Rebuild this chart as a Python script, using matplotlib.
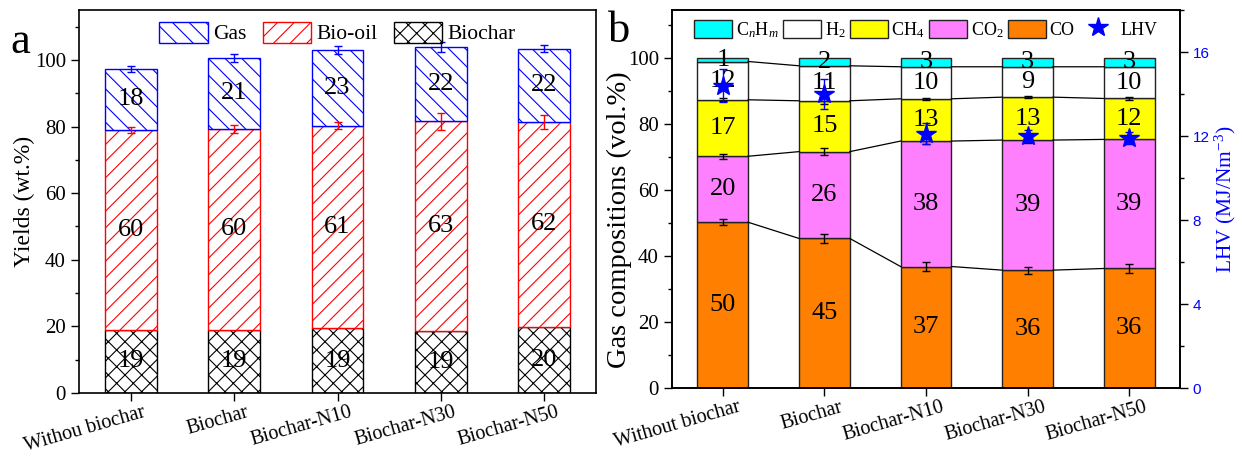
import numpy as np
import matplotlib
matplotlib.use('Agg')
import matplotlib.pyplot as plt
from matplotlib.patches import Patch
from matplotlib.lines import Line2D
from matplotlib.ticker import MultipleLocator
from matplotlib.transforms import ScaledTranslation

plt.rcParams['font.family'] = ['Liberation Serif', 'DejaVu Serif']
plt.rcParams['mathtext.fontset'] = 'custom'
plt.rcParams['mathtext.rm'] = 'Liberation Serif'
plt.rcParams['mathtext.it'] = 'Liberation Serif:italic'
plt.rcParams['hatch.linewidth'] = 0.8

# ---------------- data: panel a ----------------
cats_a = ['Withou biochar', 'Biochar', 'Biochar-N10', 'Biochar-N30', 'Biochar-N50']
biochar = [19.0, 19.0, 19.4, 18.7, 19.8]
biooil = [60.0, 60.3, 60.9, 62.9, 61.6]
gas = [18.4, 21.3, 22.6, 22.4, 22.0]
biooil_err = [1.0, 1.2, 1.1, 2.5, 2.0]
gas_err = [0.9, 1.2, 1.2, 1.5, 1.1]

# ---------------- data: panel b ----------------
cats_b = ['Without biochar', 'Biochar', 'Biochar-N10', 'Biochar-N30', 'Biochar-N50']
co = [50.2, 45.3, 36.8, 35.7, 36.2]
co2 = [20.0, 26.3, 38.0, 39.4, 39.1]
ch4 = [17.1, 15.4, 12.8, 13.0, 12.4]
h2 = [11.6, 10.6, 9.7, 9.2, 9.6]
cnhm = [1.1, 2.3, 2.7, 2.7, 2.7]
co_err = [0.9, 1.4, 1.3, 1.1, 1.4]
co2_err = [0.8, 1.0, 1.0, 1.0, 0.8]
ch4_err = [0.4, 1.0, 0.3, 0.4, 0.4]
lhv = [14.4, 14.0, 12.1, 12.0, 11.9]
lhv_err = [0.8, 0.7, 0.5, 0.3, 0.3]

W = 0.5
VAL_FS = 19
TICK_FS = 15
XT_FS = 14.5
XT_ROT = 16

fig = plt.figure(figsize=(12.42, 4.58), dpi=100)
axa = fig.add_axes([79/1242, 65/458, 517/1242, 383/458])
axb = fig.add_axes([672/1242, 70/458, 508/1242, 378/458])


def shift_xlabels(ax, dx_px):
    off = ScaledTranslation(dx_px / 100.0, 0, fig.dpi_scale_trans)
    for lab in ax.get_xticklabels():
        lab.set_transform(lab.get_transform() + off)


# ---------------- panel a ----------------
x = np.arange(len(cats_a))
b1 = np.array(biochar)
b2 = b1 + np.array(biooil)
b3 = b2 + np.array(gas)
axa.bar(x, biochar, W, color='white', edgecolor='black', hatch='xx', linewidth=1.0)
axa.bar(x, biooil, W, bottom=b1, color='white', edgecolor='red', hatch='//', linewidth=1.0)
axa.bar(x, gas, W, bottom=b2, color='white', edgecolor='blue', hatch='\\\\', linewidth=1.0)
axa.errorbar(x, b2, yerr=biooil_err, fmt='none', ecolor='red', elinewidth=1, capsize=3)
axa.errorbar(x, b3, yerr=gas_err, fmt='none', ecolor='blue', elinewidth=1, capsize=3)
for i in range(len(x)):
    axa.text(x[i], b1[i]/2, f'{round(biochar[i])}', ha='center', va='center', fontsize=VAL_FS)
    axa.text(x[i], (b1[i]+b2[i])/2, f'{round(biooil[i])}', ha='center', va='center', fontsize=VAL_FS)
    axa.text(x[i], (b2[i]+b3[i])/2, f'{round(gas[i])}', ha='center', va='center', fontsize=VAL_FS)

axa.set_xlim(-0.5, 4.5)
axa.set_ylim(0, 115)
axa.yaxis.set_major_locator(MultipleLocator(20))
axa.yaxis.set_minor_locator(MultipleLocator(10))
axa.tick_params(axis='y', labelsize=TICK_FS, direction='out', length=6, width=1)
axa.tick_params(axis='y', which='minor', direction='out', length=3, width=1)
axa.tick_params(axis='x', direction='out', length=6, width=1, pad=1)
axa.set_xticks(x)
axa.set_xticklabels(cats_a, rotation=XT_ROT, ha='right', va='top', rotation_mode='anchor',
                    fontsize=XT_FS)
shift_xlabels(axa, 12)
axa.set_ylabel('Yields (wt.%)', fontsize=17)
axa.yaxis.set_label_coords(-0.085, 0.5)
for s in axa.spines.values():
    s.set_linewidth(1.2)

hand_a = [Patch(facecolor='white', edgecolor='blue', hatch='\\\\', label='Gas'),
          Patch(facecolor='white', edgecolor='red', hatch='//', label='Bio-oil'),
          Patch(facecolor='white', edgecolor='black', hatch='xx', label='Biochar')]
axa.legend(handles=hand_a, loc='upper center', ncol=3, frameon=False, fontsize=15.5,
           handlelength=2.25, handleheight=1.1, handletextpad=0.25, columnspacing=0.75,
           borderaxespad=0.15, bbox_to_anchor=(0.5, 1.0))

# ---------------- panel b ----------------
xb = np.arange(len(cats_b))
c1 = np.array(co)
c2 = c1 + np.array(co2)
c3 = c2 + np.array(ch4)
c4 = c3 + np.array(h2)
c5 = c4 + np.array(cnhm)
colors = {'co': '#FF8000', 'co2': '#FF80FF', 'ch4': '#FFFF00', 'h2': 'white', 'cnhm': '#00FFFF'}
ec = '#222222'
axb.bar(xb, co, W, color=colors['co'], edgecolor=ec, linewidth=1.0)
axb.bar(xb, co2, W, bottom=c1, color=colors['co2'], edgecolor=ec, linewidth=1.0)
axb.bar(xb, ch4, W, bottom=c2, color=colors['ch4'], edgecolor=ec, linewidth=1.0)
axb.bar(xb, h2, W, bottom=c3, color=colors['h2'], edgecolor=ec, linewidth=1.0)
axb.bar(xb, cnhm, W, bottom=c4, color=colors['cnhm'], edgecolor=ec, linewidth=1.0)

# connecting lines between bars
for tops in (c1, c2, c3, c4):
    lx, ly = [], []
    for i in range(len(xb) - 1):
        lx += [xb[i] + W/2, xb[i+1] - W/2, np.nan]
        ly += [tops[i], tops[i+1], np.nan]
    axb.plot(lx, ly, color='black', linewidth=0.9)

axb.errorbar(xb, c1, yerr=co_err, fmt='none', ecolor='black', elinewidth=1, capsize=3)
axb.errorbar(xb, c2, yerr=co2_err, fmt='none', ecolor='black', elinewidth=1, capsize=3)
axb.errorbar(xb, c3, yerr=ch4_err, fmt='none', ecolor='black', elinewidth=1, capsize=3)

segs = [(np.zeros(5), c1, co), (c1, c2, co2), (c2, c3, ch4), (c3, c4, h2), (c4, c5, cnhm)]
for lo, hi, vals in segs:
    for i in range(len(xb)):
        axb.text(xb[i], (lo[i]+hi[i])/2, f'{round(vals[i])}', ha='center', va='center',
                 fontsize=VAL_FS)

axb.set_xlim(-0.5, 4.5)
axb.set_ylim(0, 114.5)
axb.yaxis.set_major_locator(MultipleLocator(20))
axb.yaxis.set_minor_locator(MultipleLocator(10))
axb.tick_params(axis='y', labelsize=TICK_FS, direction='out', length=6, width=1)
axb.tick_params(axis='y', which='minor', direction='out', length=3, width=1)
axb.tick_params(axis='x', direction='out', length=6, width=1, pad=1)
axb.set_xticks(xb)
axb.set_xticklabels(cats_b, rotation=XT_ROT, ha='right', va='top', rotation_mode='anchor',
                    fontsize=XT_FS)
shift_xlabels(axb, 15)
axb.set_ylabel('Gas compositions (vol.%)', fontsize=20.5)
axb.yaxis.set_label_coords(-0.078, 0.444)
for s in axb.spines.values():
    s.set_linewidth(1.2)

axr = axb.twinx()
axr.set_ylim(0, 18)
axr.yaxis.set_major_locator(MultipleLocator(4))
axr.yaxis.set_minor_locator(MultipleLocator(2))
axr.errorbar(xb, lhv, yerr=lhv_err, fmt='*', color='blue', markersize=15,
             ecolor='blue', elinewidth=1, capsize=3)
axr.tick_params(axis='y', direction='out', length=6, width=1, labelcolor='blue', pad=3)
axr.tick_params(axis='y', which='minor', direction='out', length=3, width=1)
for lab in axr.get_yticklabels():
    lab.set_fontfamily(['Liberation Sans', 'DejaVu Sans'])
    lab.set_fontsize(11)
axr.set_ylabel('LHV (MJ/Nm$^{-3}$)', fontsize=15.5, color='blue')
axr.yaxis.set_label_coords(1.065, 0.5)
for s in axr.spines.values():
    s.set_linewidth(1.2)

hand_b = [Patch(facecolor=colors['cnhm'], edgecolor=ec, label='C$_n$H$_m$'),
          Patch(facecolor=colors['h2'], edgecolor=ec, label='H$_2$'),
          Patch(facecolor=colors['ch4'], edgecolor=ec, label='CH$_4$'),
          Patch(facecolor=colors['co2'], edgecolor=ec, label='CO$_2$'),
          Patch(facecolor=colors['co'], edgecolor=ec, label='CO'),
          Line2D([], [], marker='*', color='blue', linestyle='none', markersize=15, label='LHV')]
axr.legend(handles=hand_b, loc='upper center', ncol=6, frameon=False, fontsize=13,
           handlelength=2.1, handleheight=1.15, handletextpad=0.2, columnspacing=0.25,
           borderaxespad=0.15, bbox_to_anchor=(0.5, 1.0))

fig.text(10/1242, 1 - 53/458, 'a', fontsize=32)
fig.text(608/1242, 1 - 42/458, 'b', fontsize=32)

fig.savefig('out.png', dpi=100)
